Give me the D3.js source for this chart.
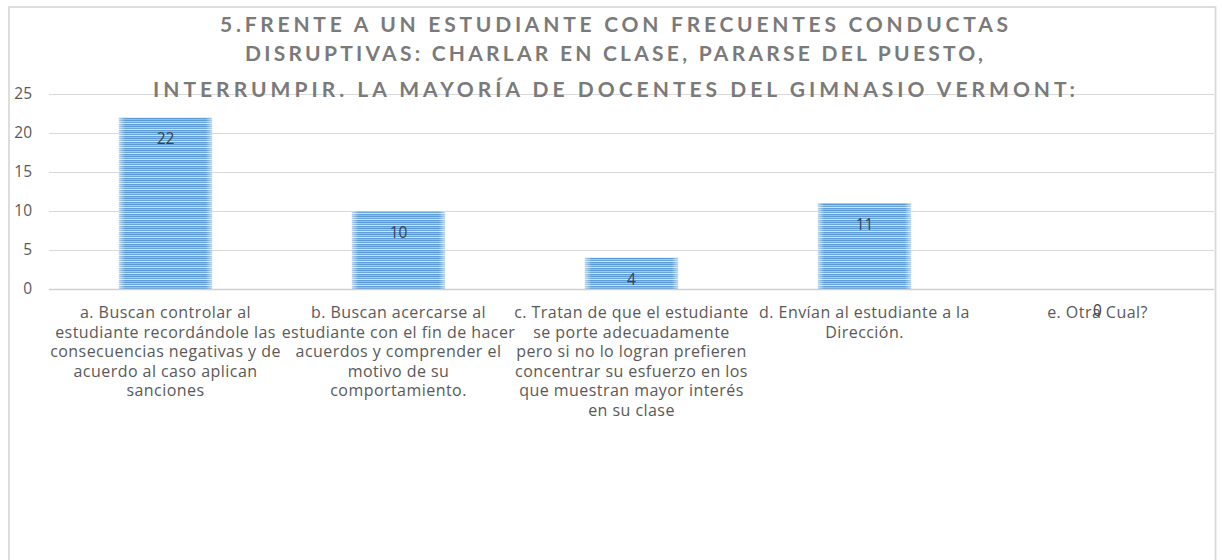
<!DOCTYPE html>
<html><head><meta charset="utf-8">
<script src="https://cdn.jsdelivr.net/npm/d3@7"></script>
<style>body{margin:0;background:#fff}svg{display:block}</style>
</head><body>
<svg id="c" width="1222" height="560"></svg>
<script>
const titleLines = [
  "5.FRENTE A UN ESTUDIANTE CON FRECUENTES CONDUCTAS",
  "DISRUPTIVAS: CHARLAR EN CLASE, PARARSE DEL PUESTO,",
  "INTERRUMPIR. LA MAYORÍA DE DOCENTES DEL GIMNASIO VERMONT:"
];
const categories = ["a","b","c","d","e"];
const categoryLabels = [
  ["a. Buscan controlar al","estudiante recordándole las","consecuencias negativas y de","acuerdo al caso aplican","sanciones"],
  ["b. Buscan acercarse al","estudiante con el fin de hacer","acuerdos y comprender el","motivo de su","comportamiento."],
  ["c. Tratan de que el estudiante","se porte adecuadamente","pero si no lo logran prefieren","concentrar su esfuerzo en los","que muestran mayor interés","en su clase"],
  ["d. Envían al estudiante a la","Dirección."],
  ["e. Otra Cual?"]
];
const values = [22, 10, 4, 11, 0];
const yTicks = [0, 5, 10, 15, 20, 25];

const svg = d3.select("#c");
const font = "Lato, 'Open Sans', sans-serif";
const font2 = "'Open Sans', Lato, sans-serif";

// frame
svg.append("rect").attr("x",9).attr("y",7).attr("width",1206.5).attr("height",600)
  .attr("fill","#fff").attr("stroke","#d9d9d9").attr("stroke-width",1.75);

const plot = {left:49, right:1214, top:94, bottom:289};
const x = d3.scaleBand().domain(categories).range([plot.left, plot.right])
  .paddingInner(0.6).paddingOuter(0.3);
const y = d3.scaleLinear().domain([0,25]).range([plot.bottom, plot.top]);

// pattern
const defs = svg.append("defs");
const pat = defs.append("pattern").attr("id","stripes").attr("patternUnits","userSpaceOnUse")
  .attr("width",8).attr("height",6);
const stripeCols = ["#5b9bd5","#a6c8ea","#6ca5dc","#cfe1f4","#5f9ed7","#8fbce6"];
stripeCols.forEach((c,i)=>pat.append("rect").attr("x",0).attr("y",i).attr("width",8).attr("height",1).attr("fill",c));
const edge = defs.append("linearGradient").attr("id","edge").attr("x1","0").attr("x2","1").attr("y1","0").attr("y2","0");
[[0,0.55],[0.07,0],[0.93,0],[1,0.55]].forEach(([o,a])=>edge.append("stop").attr("offset",o).attr("stop-color","#fff").attr("stop-opacity",a));

// gridlines
svg.append("g").selectAll("line").data(yTicks.filter(d=>d>0)).join("line")
  .attr("x1",plot.left).attr("x2",plot.right)
  .attr("y1",d=>Math.round(y(d))+0.5).attr("y2",d=>Math.round(y(d))+0.5)
  .attr("stroke","#d9d9d9").attr("stroke-width",1);

// y axis labels
const yAxis = d3.axisLeft(y).tickValues(yTicks).tickSize(0).tickPadding(0);
const ya = svg.append("g").attr("transform",`translate(32,0)`).call(yAxis);
ya.select(".domain").remove();
ya.selectAll("text").attr("font-family",font2).attr("font-size",15.5).attr("fill","#595959");

// title
const titleY = [32, 61, 97];
const titleW = [788, 738, 922];
const title = svg.append("g");
titleLines.forEach((t,i)=>{
  title.append("text").attr("x",614).attr("y",titleY[i])
    .attr("text-anchor","middle").attr("font-family",font).attr("font-weight","bold")
    .attr("font-size",21).attr("textLength",titleW[i]).attr("lengthAdjust","spacing")
    .attr("fill","#7a7a7a").text(t);
});

// bars
const bars = svg.append("g");
bars.selectAll("rect.b").data(values).join("rect").attr("class","b")
  .attr("x",(d,i)=>x(categories[i])).attr("width",x.bandwidth())
  .attr("y",d=>y(d)).attr("height",d=>y(0)-y(d)).attr("fill","url(#stripes)");
bars.selectAll("rect.e").data(values).join("rect").attr("class","e")
  .attr("x",(d,i)=>x(categories[i])).attr("width",x.bandwidth())
  .attr("y",d=>y(d)).attr("height",d=>y(0)-y(d)).attr("fill","url(#edge)");

// x axis line
svg.append("line").attr("x1",plot.left).attr("x2",plot.right)
  .attr("y1",y(0)+0.5).attr("y2",y(0)+0.5).attr("stroke","#d0d0d0").attr("stroke-width",1.6);

// category labels
const cl = svg.append("g");
categoryLabels.forEach((lines,i)=>{
  const cx = x(categories[i]) + x.bandwidth()/2;
  const t = cl.append("text").attr("text-anchor","middle").attr("font-family",font2)
    .attr("font-size",16).attr("letter-spacing","0.45px").attr("fill","#595959");
  lines.forEach((ln,j)=>t.append("tspan").attr("x",cx).attr("y",318 + j*19.6).text(ln));
});

// data labels
svg.append("g").selectAll("text").data(values).join("text")
  .attr("x",(d,i)=>x(categories[i]) + x.bandwidth()/2)
  .attr("y",d=>y(d)+27).attr("text-anchor","middle").attr("font-family",font2)
  .attr("font-size",15.5).attr("fill","#404040").text(d=>d);
</script>
</body></html>
